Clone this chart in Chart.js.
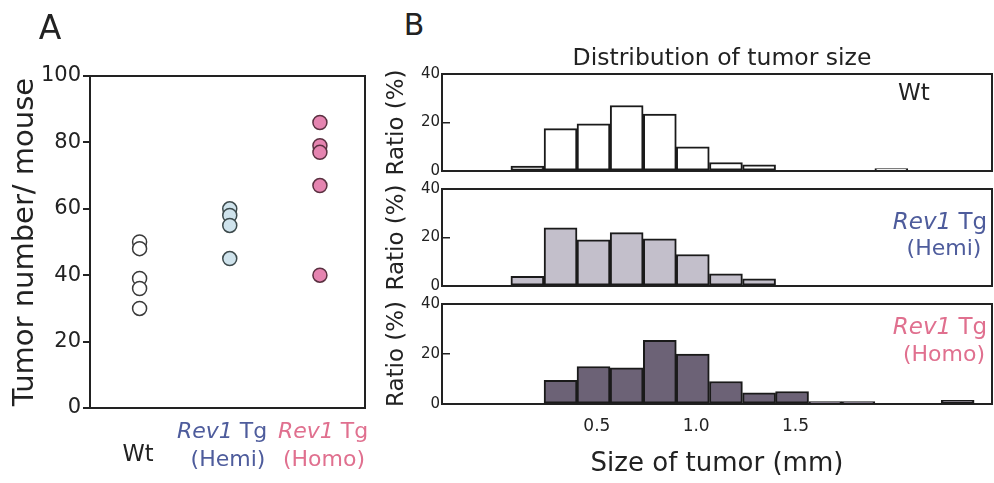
<!DOCTYPE html>
<html>
<head>
<meta charset="utf-8">
<script src="https://cdn.jsdelivr.net/npm/chart.js@4.4.1/dist/chart.umd.min.js"></script>
<style>
  body { margin: 0; background: #fff; }
  #wrap { position: relative; width: 994px; height: 483px; overflow: hidden; font-family: 'DejaVu Sans', sans-serif; color: #222; }
  canvas { position: absolute; }
  .lbl { position: absolute; transform: translate(-50%, -50%); line-height: 1; white-space: nowrap; }
  .hemi { color: #4e5c9c; }
  .homo { color: #e0708f; }
</style>
</head>
<body>
<div id="wrap">
  <canvas id="dots" width="380" height="483" style="left:0;top:0"></canvas>
  <canvas id="histWt" width="614" height="135" style="left:380px;top:55px"></canvas>
  <canvas id="histHemi" width="614" height="135" style="left:380px;top:170px"></canvas>
  <canvas id="histHomo" width="614" height="198" style="left:380px;top:285px"></canvas>

  <div class="lbl" style="left:50px;top:27px;font-size:33px">A</div>
  <div class="lbl" style="left:414px;top:25px;font-size:30px">B</div>
  <div class="lbl" style="left:722px;top:58px;font-size:23.5px">Distribution of tumor size</div>

  <div class="lbl" style="left:138px;top:453px;font-size:22.5px">Wt</div>
  <div class="lbl hemi" style="left:222px;top:431px;font-size:22px"><i>Rev1</i> Tg</div>
  <div class="lbl hemi" style="left:228px;top:459px;font-size:22px">(Hemi)</div>
  <div class="lbl homo" style="left:323px;top:431px;font-size:22px"><i>Rev1</i> Tg</div>
  <div class="lbl homo" style="left:324px;top:459px;font-size:22px">(Homo)</div>

  <div class="lbl" style="left:914px;top:92px;font-size:23px">Wt</div>
  <div class="lbl hemi" style="left:940px;top:221px;font-size:23px"><i>Rev1</i> Tg</div>
  <div class="lbl hemi" style="left:944px;top:248px;font-size:22px">(Hemi)</div>
  <div class="lbl homo" style="left:940px;top:326px;font-size:23px"><i>Rev1</i> Tg</div>
  <div class="lbl homo" style="left:944px;top:354px;font-size:22px">(Homo)</div>
</div>
<script>
// panel A: tumours per mouse
const wtTumors = [50, 48, 39, 36, 30];
const hemiTumors = [60, 58, 55, 45];
const homoTumors = [86, 79, 77, 67, 40];
const tumorTicks = [0, 20, 40, 60, 80, 100];

// panel B: tumour size distribution (bin centres in mm, ratio in %)
const sizeBins = [0.150, 0.317, 0.483, 0.650, 0.817, 0.983, 1.150, 1.317, 1.483, 1.650, 1.817, 1.983, 2.150, 2.317];
const wtRatio   = [2, 17.5, 19.5, 27, 23.5, 10, 3.5, 2.5, 0, 0, 0, 1, 0, 0];
const hemiRatio = [4, 24, 19, 22, 19.5, 13, 5, 3, 0, 0, 0, 0, 0, 0];
const homoRatio = [0, 9.5, 15, 14.5, 25.5, 20, 9, 4.5, 5, 1, 1, 0, 0, 1.5];
const sizeTicks = [0.5, 1.0, 1.5];
const ratioTicks = [0, 20, 40];

const F = "'DejaVu Sans', sans-serif";
const INK = '#222';
Chart.defaults.font.family = F;
Chart.defaults.color = INK;

const frame = {
  id: 'frame',
  beforeDatasetsDraw(chart) {
    const { ctx, chartArea: a } = chart;
    ctx.save();
    ctx.strokeStyle = INK;
    ctx.lineWidth = 2;
    ctx.strokeRect(a.left, a.top, a.right - a.left, a.bottom - a.top);
    ctx.restore();
  }
};

function dots(values, group, fill, edge) {
  return {
    data: values.map(y => ({ x: group, y })),
    backgroundColor: fill,
    borderColor: edge,
    borderWidth: 1.5,
    pointRadius: 7,
    showLine: false
  };
}

new Chart(document.getElementById('dots'), {
  type: 'scatter',
  data: {
    datasets: [
      dots(wtTumors, 1, '#ffffff', '#3a3a3a'),
      dots(hemiTumors, 2, '#cfe3ec', '#3d4a4c'),
      dots(homoTumors, 3, '#e584b0', '#5a3040')
    ]
  },
  options: {
    responsive: false,
    animation: false,
    layout: { padding: { top: 76, right: 15, bottom: 75, left: 0 } },
    plugins: { legend: { display: false }, tooltip: { enabled: false } },
    scales: {
      x: { type: 'linear', min: 0.45, max: 3.5, display: false },
      y: {
        min: 0, max: 100,
        afterBuildTicks: s => { s.ticks = tumorTicks.map(v => ({ value: v })); },
        afterFit: s => { s.width = 90; },
        border: { display: false },
        grid: { drawOnChartArea: false, tickLength: 7, color: INK, lineWidth: 2 },
        ticks: { padding: 2, color: INK, font: { size: 21 } },
        title: { display: true, text: 'Tumor number/ mouse', color: INK, font: { size: 29 }, padding: { top: 8, bottom: 0 } }
      }
    }
  },
  plugins: [frame]
});

function histogram(id, ratio, fill, padding, showX) {
  const x = {
    type: 'linear', min: -0.28, max: 2.49, offset: false,
    afterBuildTicks: s => { s.ticks = sizeTicks.map(v => ({ value: v })); },
    display: showX
  };
  if (showX) {
    Object.assign(x, {
      afterFit: s => { s.height = 79; },
      border: { display: false },
      grid: { display: false, drawTicks: false },
      ticks: { padding: 12, color: INK, font: { size: 17 }, maxRotation: 0, autoSkip: false, callback: v => v.toFixed(1) },
      title: { display: true, text: 'Size of tumor (mm)', color: INK, font: { size: 26 }, padding: { top: 0, bottom: 3 } }
    });
  }
  new Chart(document.getElementById(id), {
    type: 'bar',
    data: {
      datasets: [{
        data: sizeBins.map((b, i) => ({ x: b, y: ratio[i] })),
        backgroundColor: fill,
        borderColor: '#1a1a1a',
        borderWidth: 2,
        borderSkipped: false,
        barPercentage: 1,
        categoryPercentage: 1
      }]
    },
    options: {
      responsive: false,
      animation: false,
      layout: { padding: padding },
      plugins: { legend: { display: false }, tooltip: { enabled: false } },
      scales: {
        x: x,
        y: {
          min: 0, max: 40,
          afterBuildTicks: s => { s.ticks = ratioTicks.map(v => ({ value: v })); },
          afterFit: s => { s.width = 62; },
          border: { display: false },
          grid: { drawOnChartArea: false, tickLength: -8, color: INK, lineWidth: 1.5 },
          ticks: { padding: 10, color: INK, font: { size: 15 } },
          title: { display: true, text: 'Ratio (%)', color: INK, font: { size: 23 }, padding: { top: 3, bottom: 0 } }
        }
      }
    },
    plugins: [frame]
  });
}

histogram('histWt', wtRatio, '#ffffff', { top: 18, right: 2, bottom: 14, left: 0 }, false);
histogram('histHemi', hemiRatio, '#c3bfcb', { top: 15, right: 2, bottom: 16, left: 0 }, false);
histogram('histHomo', homoRatio, '#6c6276', { top: 15, right: 2, bottom: 0, left: 0 }, true);
</script>
</body>
</html>
